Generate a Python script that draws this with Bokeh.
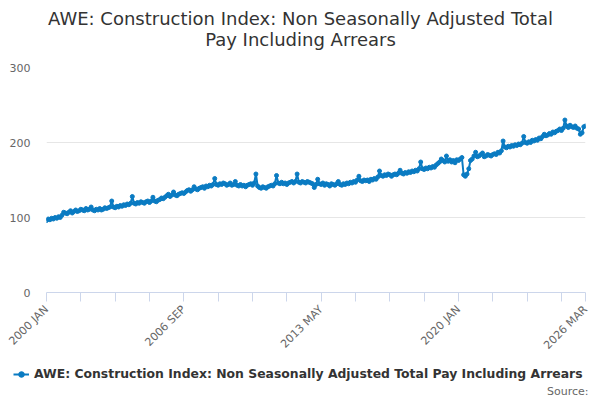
from bokeh.plotting import figure
from bokeh.models import FixedTicker, Range1d, Legend, LegendItem, ColumnDataSource, Label
from bokeh.embed import file_html
from bokeh.resources import INLINE

series_name = "AWE: Construction Index: Non Seasonally Adjusted Total Pay Including Arrears"
title_line1 = "AWE: Construction Index: Non Seasonally Adjusted Total"
title_line2 = "Pay Including Arrears"
source_text = "Source:"

# Monthly values, Jan..Dec
y2000 = [96, 98, 97, 99, 98, 100, 99, 101, 100, 103, 107, 106]
y2001 = [105, 107, 109, 106, 108, 110, 108, 109, 111, 110, 109, 112]
y2002 = [110, 111, 114, 110, 109, 111, 110, 112, 110, 111, 113, 112]
y2003 = [113, 114, 122, 114, 113, 115, 114, 116, 115, 117, 116, 118]
y2004 = [117, 119, 128, 119, 118, 120, 119, 121, 120, 119, 121, 122]
y2005 = [120, 122, 127, 122, 121, 123, 124, 126, 125, 127, 129, 131]
y2006 = [128, 130, 134, 130, 129, 131, 132, 133, 132, 134, 136, 137]
y2007 = [135, 137, 141, 138, 137, 139, 140, 141, 139, 142, 141, 143]
y2008 = [142, 144, 152, 144, 143, 145, 144, 146, 145, 143, 144, 146]
y2009 = [143, 144, 148, 143, 142, 144, 142, 143, 141, 143, 144, 145]
y2010 = [143, 146, 158, 142, 140, 139, 141, 140, 139, 141, 142, 143]
y2011 = [142, 145, 156, 146, 145, 147, 145, 146, 144, 146, 147, 148]
y2012 = [146, 148, 158, 147, 146, 148, 147, 146, 148, 147, 146, 145]
y2013 = [140, 144, 151, 145, 144, 146, 143, 145, 144, 142, 145, 144]
y2014 = [143, 145, 148, 144, 143, 145, 144, 146, 145, 147, 146, 148]
y2015 = [147, 150, 155, 149, 148, 150, 149, 150, 148, 151, 150, 152]
y2016 = [151, 154, 162, 156, 155, 157, 156, 158, 157, 155, 157, 158]
y2017 = [157, 159, 163, 159, 158, 160, 159, 161, 160, 162, 161, 163]
y2018 = [162, 165, 174, 165, 164, 166, 165, 167, 166, 168, 167, 170]
y2019 = [172, 174, 178, 176, 174, 182, 175, 177, 174, 176, 173, 177]
y2020 = [176, 178, 180, 157, 155, 158, 165, 176, 178, 182, 187, 181]
y2021 = [182, 184, 186, 181, 182, 184, 183, 182, 184, 185, 184, 187]
y2022 = [186, 189, 202, 194, 193, 195, 194, 196, 195, 197, 196, 198]
y2023 = [197, 199, 208, 200, 199, 201, 200, 203, 202, 204, 203, 206]
y2024 = [205, 208, 211, 209, 210, 212, 211, 214, 213, 215, 216, 218]
y2025 = [216, 219, 230, 222, 220, 223, 221, 220, 222, 219, 218, 211]
y2026 = [213, 221, 222]

values = (y2000 + y2001 + y2002 + y2003 + y2004 + y2005 + y2006 + y2007 + y2008
          + y2009 + y2010 + y2011 + y2012 + y2013 + y2014 + y2015 + y2016 + y2017
          + y2018 + y2019 + y2020 + y2021 + y2022 + y2023 + y2024 + y2025 + y2026)
months = list(range(len(values)))

x_ticks = [0, 20, 40, 60, 80, 100, 120, 140, 160, 180, 200, 220, 240, 260, 280, 300, 314]
x_tick_labels = {0: "2000 JAN", 80: "2006 SEP", 160: "2013 MAY", 240: "2020 JAN", 314: "2026 MAR"}
y_ticks = [0, 100, 200, 300]

LINE = "#0a7bc2"
FONT = "DejaVu Sans"
W = 600


def strip(height):
    f = figure(width=W, height=height, output_backend="svg", toolbar_location=None,
               x_range=Range1d(0, W), y_range=Range1d(0, height),
               x_axis_type=None, y_axis_type=None,
               min_border_left=0, min_border_right=0, min_border_top=0, min_border_bottom=0)
    f.outline_line_color = None
    f.grid.grid_line_color = None
    f.background_fill_color = "white"
    f.border_fill_color = "white"
    return f


src = ColumnDataSource(dict(x=months, y=values))

# ---- title strip ----
top = strip(55)
for txt, yy in ((title_line1, 37), (title_line2, 16)):
    top.add_layout(Label(x=W / 2, y=yy, text=txt, text_align="center", text_baseline="middle",
                         text_font=FONT, text_font_size="18px", text_color="#333333"))

# ---- chart ----
p = figure(width=W, height=305, output_backend="svg", toolbar_location=None,
           x_range=Range1d(0, months[-1]), y_range=Range1d(0, 300),
           min_border_left=46, min_border_right=15, min_border_top=12, min_border_bottom=68)
p.outline_line_color = None
p.background_fill_color = "white"
p.border_fill_color = "white"

ln = p.line("x", "y", source=src, line_color=LINE, line_width=2)
sc = p.scatter("x", "y", source=src, size=4, fill_color=LINE, line_color=LINE)

p.xgrid.grid_line_color = None
p.ygrid.grid_line_color = "#e6e6e6"
p.ygrid.ticker = FixedTicker(ticks=y_ticks)

xa = p.xaxis[0]
xa.ticker = FixedTicker(ticks=x_ticks)
xa.major_label_overrides = {t: x_tick_labels.get(t, "") for t in x_ticks}
xa.major_label_orientation = 0.785398
xa.axis_line_color = "#ccd6eb"
xa.major_tick_line_color = "#ccd6eb"
xa.major_tick_out = 9
xa.major_tick_in = 0
xa.minor_tick_line_color = None
xa.major_label_text_font = FONT
xa.major_label_text_font_size = "11px"
xa.major_label_text_color = "#666666"
xa.major_label_standoff = 6

ya = p.yaxis[0]
ya.ticker = FixedTicker(ticks=y_ticks)
ya.axis_line_color = None
ya.major_tick_line_color = None
ya.major_tick_out = 0
ya.minor_tick_line_color = None
ya.major_label_text_font = FONT
ya.major_label_text_font_size = "11px"
ya.major_label_text_color = "#666666"
ya.major_label_standoff = 16

# ---- legend / source strip ----
bot = strip(40)
# same series; its values lie outside this strip's range, only the legend swatch shows
l2 = bot.line("x", "y", source=src, line_color=LINE, line_width=2)
s2 = bot.scatter("x", "y", source=src, size=5, fill_color=LINE, line_color=LINE)
legend = Legend(items=[LegendItem(label=series_name, renderers=[l2, s2])],
                location=(13, 19), orientation="horizontal",
                border_line_color=None, background_fill_alpha=0,
                label_text_font=FONT, label_text_font_style="bold",
                label_text_font_size="12.4px", label_text_color="#333333",
                glyph_width=16, glyph_height=14, label_height=14,
                padding=0, margin=0, spacing=0, label_standoff=5)
bot.add_layout(legend, "center")
bot.add_layout(Label(x=588, y=9, text=source_text, text_align="right", text_baseline="middle",
                     text_font=FONT, text_font_size="11px", text_color="#666666"))

open("out.html", "w").write(file_html([top, p, bot], INLINE))
